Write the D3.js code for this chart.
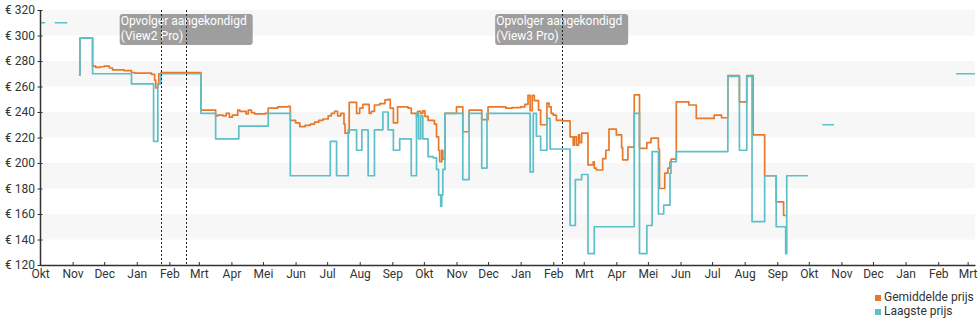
<!DOCTYPE html>
<html>
<head>
<meta charset="utf-8">
<script src="https://cdn.jsdelivr.net/npm/d3@7"></script>
<style>
  html, body { margin: 0; padding: 0; background: #fff; }
  svg { display: block; font-family: Roboto, "Noto Sans", sans-serif; }
</style>
</head>
<body>
<svg id="chart" width="980" height="325"></svg>
<script>
// ---------- DATA ----------
const monthNames = ["Jan","Feb","Mrt","Apr","Mei","Jun","Jul","Aug","Sep","Okt","Nov","Dec"];
const priceTicks = [120,140,160,180,200,220,240,260,280,300,320];
const bandRanges = [[140,160],[180,200],[220,240],[260,280],[300,320]];
const dateDomain = ["2014-10-01","2017-03-08"];

const seriesNames = ["Gemiddelde prijs","Laagste prijs"];
const seriesColors = ["#e8792a","#5dbfc8"];

const successorDates = ["2015-01-24","2015-02-17","2016-02-09"];
const successorLabels = [null, ["Opvolger aangekondigd","(View2 Pro)"], ["Opvolger aangekondigd","(View3 Pro)"]];

// Laagste prijs (lowest price), null = no data
const lowestPrice = [
["2014-10-01",310],["2014-10-06",310],["2014-10-07",null],
["2014-10-15",310],["2014-10-27",310],["2014-10-28",null],
["2014-11-07",269],["2014-11-08",298],["2014-11-20",270],["2014-12-27",262],["2015-01-17",217],["2015-01-21",262],["2015-01-24",270],
["2015-03-03",239],["2015-03-17",219],["2015-04-08",229],["2015-05-06",239],["2015-05-27",190],
["2015-07-04",217],["2015-07-10",190],["2015-07-21",226],["2015-07-29",210],["2015-08-03",226],["2015-08-09",190],["2015-08-15",226],["2015-08-23",240],["2015-08-28",226],["2015-09-02",210],["2015-09-08",219],["2015-09-19",190],["2015-09-24",239],["2015-09-26",219],["2015-09-28",237],["2015-09-30",219],["2015-10-05",205],["2015-10-10",204],["2015-10-13",195],["2015-10-15",175],["2015-10-17",166],["2015-10-18",175],["2015-10-19",195],["2015-10-21",239],["2015-11-07",187],["2015-11-13",239],["2015-11-25",196],["2015-11-30",239],
["2016-01-10",193],["2016-01-13",239],["2016-01-16",221],["2016-01-20",210],["2016-01-26",235],["2016-01-29",211],["2016-02-17",151],["2016-02-22",187],["2016-02-28",191],["2016-03-05",129],["2016-03-11",150],["2016-04-18",239],["2016-04-23",129],["2016-04-30",151],["2016-05-05",209],["2016-05-11",160],["2016-05-16",167],["2016-05-22",192],["2016-05-23",201],["2016-05-28",209],["2016-07-16",268],["2016-07-27",210],["2016-08-03",268],["2016-08-08",154],["2016-08-20",190],["2016-08-31",150],["2016-09-09",129],["2016-09-10",190],["2016-09-30",190],["2016-10-01",null],
["2016-10-14",230],["2016-10-25",230],["2016-10-26",null],
["2017-02-18",270],["2017-03-08",270]
];

// Gemiddelde prijs (average price)
const averagePrice = [
["2014-11-07",269],["2014-11-08",298],["2014-11-20",276],["2014-11-23",275],["2014-11-27",275.5],["2014-12-01",276],["2014-12-06",274.5],["2014-12-09",273],["2014-12-20",272.5],["2014-12-27",271],["2014-12-30",270.5],["2015-01-15",269.5],["2015-01-18",265],["2015-01-19",259],["2015-01-21",262],["2015-01-22",270],["2015-01-24",271],
["2015-03-03",241.5],["2015-03-17",237],["2015-03-19",237.5],["2015-03-24",237],["2015-03-27",239],["2015-03-30",236],["2015-04-02",237.5],["2015-04-07",241.5],["2015-04-09",240.5],["2015-04-15",238.5],["2015-04-17",241.5],["2015-04-20",239.5],["2015-04-23",238.5],["2015-05-03",239],["2015-05-06",243],["2015-05-15",244],["2015-05-25",244.5],["2015-05-27",233.5],["2015-06-01",231.5],["2015-06-05",228.5],["2015-06-10",229.5],["2015-06-15",230.5],["2015-06-19",232],["2015-06-23",233.5],["2015-06-27",234.5],["2015-07-02",237],["2015-07-05",239],["2015-07-08",240.5],["2015-07-11",237],["2015-07-14",239],["2015-07-17",230.5],["2015-07-18",223.5],["2015-07-22",247.5],["2015-07-29",239],["2015-08-01",243],["2015-08-04",246],["2015-08-10",239],["2015-08-12",240.5],["2015-08-15",245.5],["2015-08-20",246.5],["2015-08-25",249.5],["2015-08-28",250],["2015-08-30",243],["2015-09-02",231.5],["2015-09-06",244],["2015-09-16",243],["2015-09-19",239],["2015-09-24",236.5],["2015-09-25",240.5],["2015-09-28",239],["2015-09-30",241],["2015-10-02",236.5],["2015-10-05",233.5],["2015-10-11",230.5],["2015-10-13",220.5],["2015-10-15",210],["2015-10-16",201],["2015-10-18",210],["2015-10-19",203],["2015-10-21",239],["2015-11-01",244],["2015-11-07",224.5],["2015-11-13",241.5],["2015-11-25",234],["2015-12-01",244],["2015-12-18",243],["2015-12-24",243.5],
["2016-01-01",244],["2016-01-05",246],["2016-01-08",253],["2016-01-10",241],["2016-01-12",253],["2016-01-14",249],["2016-01-18",241.5],["2016-01-20",230],["2016-01-26",247],["2016-01-28",244],["2016-01-30",239],["2016-02-01",237.5],["2016-02-04",233.5],["2016-02-10",233],["2016-02-17",220.5],["2016-02-20",214],["2016-02-21",220.5],["2016-02-23",214],["2016-02-25",222],["2016-02-26",216],["2016-02-28",223.5],["2016-03-05",198.5],["2016-03-10",201],["2016-03-11",196],["2016-03-13",194.5],["2016-03-19",203.5],["2016-03-22",210],["2016-03-25",226.5],["2016-04-01",222],["2016-04-06",212],["2016-04-07",202.5],["2016-04-12",212.5],["2016-04-18",253.5],["2016-04-23",211.5],["2016-04-30",216],["2016-05-04",219.5],["2016-05-11",211],["2016-05-12",180],["2016-05-17",192],["2016-05-20",196],["2016-05-22",201],["2016-05-23",203],["2016-05-28",248],["2016-06-09",245.5],["2016-06-16",235],["2016-07-03",237.5],["2016-07-10",235.5],["2016-07-16",268.5],["2016-07-27",248],["2016-08-03",268.5],["2016-08-09",222],["2016-08-20",190],["2016-08-31",169.5],["2016-09-07",159],["2016-09-09",159]
];

// ---------- CHART ----------
const parse = d3.utcParse("%Y-%m-%d");
const svg = d3.select("#chart");
const plotLeft = 40, plotRight = 975, plotTop = 10, plotBottom = 265;

const x = d3.scaleUtc().domain(dateDomain.map(parse)).range([plotLeft, plotRight]);
const y = d3.scaleLinear().domain([120, 320]).range([plotBottom, plotTop]);

// background bands
svg.append("g").selectAll("rect").data(bandRanges).join("rect")
  .attr("x", plotLeft).attr("width", plotRight - plotLeft)
  .attr("y", d => y(d[1])).attr("height", d => y(d[0]) - y(d[1]))
  .attr("fill", "#f7f7f7");

// lines
const line = d3.line()
  .defined(d => d[1] !== null)
  .x(d => x(parse(d[0])))
  .y(d => y(d[1]))
  .curve(d3.curveStepAfter);

[averagePrice, lowestPrice].forEach((data, i) => {
  svg.append("path").datum(data)
    .attr("fill", "none")
    .attr("stroke", seriesColors[i])
    .attr("stroke-width", 1.7)
    .attr("stroke-linejoin", "round")
    .attr("d", line);
});

// annotation labels
const ann = svg.append("g");
successorDates.forEach((ds, i) => {
  const lbl = successorLabels[i];
  if (!lbl) return;
  const cx = x(parse(ds));
  const w = 133, h = 31;
  ann.append("rect")
    .attr("x", cx - w / 2).attr("y", 14).attr("width", w).attr("height", h)
    .attr("rx", 3).attr("fill", "#8e8e8e").attr("fill-opacity", 0.85);
  lbl.forEach((t, j) => {
    ann.append("text")
      .attr("x", cx - w / 2 + 1).attr("y", 25 + j * 15)
      .attr("fill", "#fff").attr("font-size", 12)
      .text(t);
  });
});

// dotted vertical lines
svg.append("g").selectAll("line").data(successorDates).join("line")
  .attr("x1", d => Math.round(x(parse(d))) + 0.5).attr("x2", d => Math.round(x(parse(d))) + 0.5)
  .attr("y1", plotTop).attr("y2", plotBottom)
  .attr("stroke", "#222").attr("stroke-width", 1).attr("stroke-dasharray", "2,2");

// y axis
const yAxis = svg.append("g").attr("transform", `translate(${plotLeft},0)`)
  .call(d3.axisLeft(y).tickValues(priceTicks).tickFormat(d => "€ " + d)
    .tickSizeInner(3).tickSizeOuter(0).tickPadding(2));
yAxis.selectAll(".tick line").attr("x1", 2.5).attr("x2", -2.5).attr("stroke", "#333");
yAxis.select(".domain").attr("stroke", "#333").attr("stroke-width", 1.5);
yAxis.selectAll("text").attr("font-size", 12).attr("font-family", "Roboto").attr("fill", "#333");

// x axis
const xAxis = svg.append("g").attr("transform", `translate(0,${plotBottom})`)
  .call(d3.axisBottom(x).ticks(d3.utcMonth.every(1))
    .tickFormat(d => monthNames[d.getUTCMonth()])
    .tickSizeInner(-3).tickSizeOuter(0).tickPadding(4));
xAxis.select(".domain").attr("stroke", "#333").attr("stroke-width", 1.5);
xAxis.selectAll(".tick line").attr("stroke", "#333");
xAxis.selectAll("text").attr("font-size", 12).attr("font-family", "Roboto").attr("fill", "#333");

// legend
const legend = svg.append("g");
seriesNames.forEach((n, i) => {
  legend.append("rect").attr("x", 875).attr("y", 295 + i * 14).attr("width", 6).attr("height", 6)
    .attr("fill", seriesColors[i]);
  legend.append("text").attr("x", 884).attr("y", 301 + i * 14)
    .attr("font-size", 12).attr("fill", "#333").text(n);
});
</script>
</body>
</html>
